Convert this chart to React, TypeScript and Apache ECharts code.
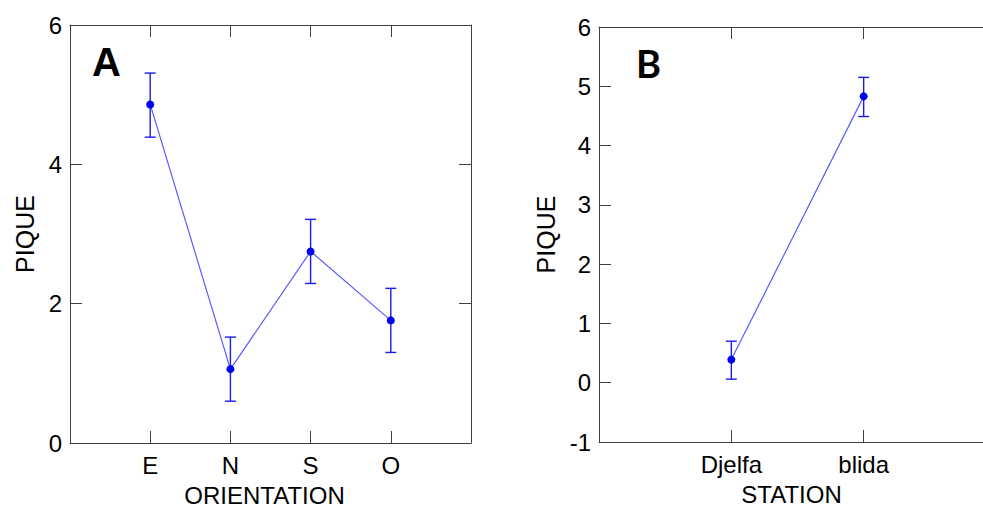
import React, { useEffect, useRef } from "react";
import * as echarts from "echarts";

const orientationCats = ["E", "N", "S", "O"];
const orientationMean = [4.86, 1.06, 2.75, 1.76];
const orientationLow = [4.39, 0.6, 2.29, 1.3];
const orientationHigh = [5.31, 1.52, 3.21, 2.22];

const stationCats = ["Djelfa", "blida"];
const stationMean = [0.39, 4.83];
const stationLow = [0.06, 4.49];
const stationHigh = [0.7, 5.15];

const yTicksA = { min: 0, max: 6, interval: 2 };
const yTicksB = { min: -1, max: 6, interval: 1 };

const FONT = "'Liberation Sans', Arial, sans-serif";
const AXIS = "#404040";
const LINE = "#5a5aff";
const ERR = "#1a1aee";
const DOT = "#0000f0";

function errRender(params: any, api: any) {
  const x = api.value(0);
  const lo = api.value(1);
  const hi = api.value(2);
  const t = api.coord([x, hi]);
  const b = api.coord([x, lo]);
  const w = 5.5;
  const style = { stroke: ERR, lineWidth: 1.4 };
  return {
    type: "group",
    children: [
      { type: "line", shape: { x1: t[0], y1: t[1], x2: b[0], y2: b[1] }, style },
      { type: "line", shape: { x1: t[0] - w, y1: t[1], x2: t[0] + w, y2: t[1] }, style },
      { type: "line", shape: { x1: b[0] - w, y1: b[1], x2: b[0] + w, y2: b[1] }, style },
    ],
  };
}

function xAxes(gridIndex: number, cats: string[], name: string) {
  const max = cats.length + 1;
  const base = {
    type: "value",
    gridIndex,
    min: 0,
    max,
    interval: 1,
    splitLine: { show: false },
    axisLine: { show: true, onZero: false, lineStyle: { color: AXIS, width: 1 } },
    axisTick: { show: true, inside: true, length: 12, lineStyle: { color: AXIS } },
  };
  return [
    {
      ...base,
      position: "bottom",
      name,
      nameLocation: "middle",
      nameGap: 40,
      nameTextStyle: { color: "#000", fontSize: 24, fontFamily: FONT, padding: [0, 12, 0, 0] },
      axisLabel: {
        color: "#000",
        fontSize: 24,
        fontFamily: FONT,
        margin: 10,
        formatter: (v: number) => cats[v - 1] ?? "",
      },
    },
    { ...base, position: "top", axisLabel: { show: false } },
  ];
}

function yAxes(gridIndex: number, t: { min: number; max: number; interval: number }, gap: number) {
  const base = {
    type: "value",
    gridIndex,
    min: t.min,
    max: t.max,
    interval: t.interval,
    splitLine: { show: false },
    axisLine: { show: true, onZero: false, lineStyle: { color: AXIS, width: 1 } },
    axisTick: { show: true, inside: true, length: 12, lineStyle: { color: AXIS } },
  };
  return [
    {
      ...base,
      position: "left",
      name: "PIQUE",
      nameLocation: "middle",
      nameGap: gap,
      nameTextStyle: { color: "#000", fontSize: 25, fontFamily: FONT },
      axisLabel: { color: "#000", fontSize: 24, fontFamily: FONT, margin: 8 },
    },
    { ...base, position: "right", axisLabel: { show: false } },
  ];
}

export default function App() {
  const ref = useRef<HTMLDivElement>(null);
  useEffect(() => {
    if (!ref.current) return;
    const chart = echarts.init(ref.current, undefined, { renderer: "svg" });
    const lineA = orientationMean.map((v, i) => [i + 1, v]);
    const errA = orientationMean.map((_, i) => [i + 1, orientationLow[i], orientationHigh[i]]);
    const lineB = stationMean.map((v, i) => [i + 1, v]);
    const errB = stationMean.map((_, i) => [i + 1, stationLow[i], stationHigh[i]]);
    chart.setOption({
      animation: false,
      backgroundColor: "#fff",
      grid: [
        { left: 70, top: 25, width: 401, height: 418, outerBoundsMode: "none", containLabel: false },
        { left: 599, top: 27, width: 397, height: 415, outerBoundsMode: "none", containLabel: false },
      ],
      xAxis: [...xAxes(0, orientationCats, "ORIENTATION"), ...xAxes(1, stationCats, "STATION")],
      yAxis: [...yAxes(0, yTicksA, 33), ...yAxes(1, yTicksB, 41)],
      graphic: [
        {
          type: "text",
          left: 92,
          top: 42,
          style: { text: "A", font: `bold 40px ${FONT}`, fill: "#000" },
        },
        {
          type: "text",
          left: 636,
          top: 44,
          style: { text: "B", font: `bold 38px Lato, ${FONT}`, fill: "#000" },
        },
      ],
      series: [
        {
          type: "custom",
          xAxisIndex: 0,
          yAxisIndex: 0,
          renderItem: errRender,
          data: errA,
          encode: { x: 0, y: [1, 2] },
          z: 2,
        },
        {
          type: "line",
          xAxisIndex: 0,
          yAxisIndex: 0,
          data: lineA,
          symbol: "circle",
          symbolSize: 8,
          itemStyle: { color: DOT },
          lineStyle: { color: LINE, width: 1.2 },
          z: 3,
        },
        {
          type: "custom",
          xAxisIndex: 2,
          yAxisIndex: 2,
          renderItem: errRender,
          data: errB,
          encode: { x: 0, y: [1, 2] },
          z: 2,
        },
        {
          type: "line",
          xAxisIndex: 2,
          yAxisIndex: 2,
          data: lineB,
          symbol: "circle",
          symbolSize: 8,
          itemStyle: { color: DOT },
          lineStyle: { color: LINE, width: 1.2 },
          z: 3,
        },
      ],
    });
    return () => chart.dispose();
  }, []);
  return (
    <div style={{ position: "absolute", left: 0, top: 0, width: 983, height: 507, overflow: "hidden", background: "#fff" }}>
      <div ref={ref} style={{ width: 1000, height: 507 }} />
    </div>
  );
}
